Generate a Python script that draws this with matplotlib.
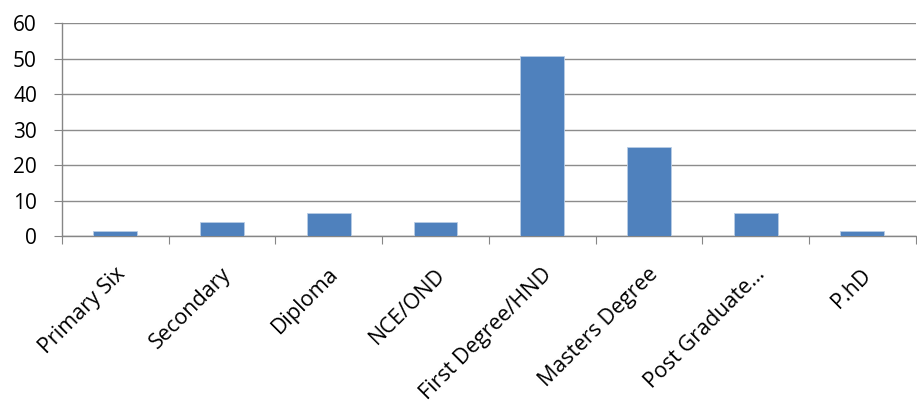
import matplotlib
matplotlib.use("Agg")
import matplotlib.pyplot as plt
import matplotlib.transforms as mtransforms
import numpy as np

categories = ["Primary Six", "Secondary", "Diploma", "NCE/OND", "First Degree/HND",
              "Masters Degree", "Post Graduate…", "P.hD"]
values = [1.3, 3.9, 6.6, 3.9, 50.7, 25.1, 6.6, 1.3]
yticks = [0, 10, 20, 30, 40, 50, 60]

plt.rcParams['font.family'] = ['Open Sans', 'DejaVu Sans']

fig = plt.figure(figsize=(9.17, 4.05), dpi=100)
ax = fig.add_axes([0.0676, 0.417, 0.931, 0.526])

x = np.arange(len(categories))
ax.bar(x, values, width=0.41, color="#4F81BD", edgecolor="#B9CDE5", linewidth=0.6, zorder=3)

ax.set_xlim(-0.5, len(categories) - 0.5)
ax.set_ylim(0, 60)
ax.set_yticks(yticks)
ax.set_yticklabels([str(t) for t in yticks], fontsize=15, color="#000000")
ax.yaxis.grid(True, color="#8C8C8C", linewidth=1.0, zorder=0)
ax.set_axisbelow(True)

ax.set_xticks(np.arange(len(categories) + 1) - 0.5, minor=False)
ax.set_xticklabels([])
ax.set_xticks(x, minor=True)
ax.set_xticklabels(categories, minor=True, rotation=45, ha="right", rotation_mode="anchor",
                   fontsize=15.5)
ax.tick_params(axis="x", which="minor", length=0, pad=20)
ax.tick_params(axis="x", which="major", length=6, color="#868686", direction="out")
ax.tick_params(axis="y", length=6, color="#868686", direction="out", pad=12)

offset = mtransforms.ScaledTranslation(-1 / 100, 0, fig.dpi_scale_trans)
for lbl in ax.get_xticklabels(minor=True):
    lbl.set_transform(lbl.get_transform() + offset)

for s in ["top", "right"]:
    ax.spines[s].set_visible(False)
for s in ["left", "bottom"]:
    ax.spines[s].set_color("#868686")
    ax.spines[s].set_linewidth(1.0)

fig.savefig("out.png", dpi=100)
